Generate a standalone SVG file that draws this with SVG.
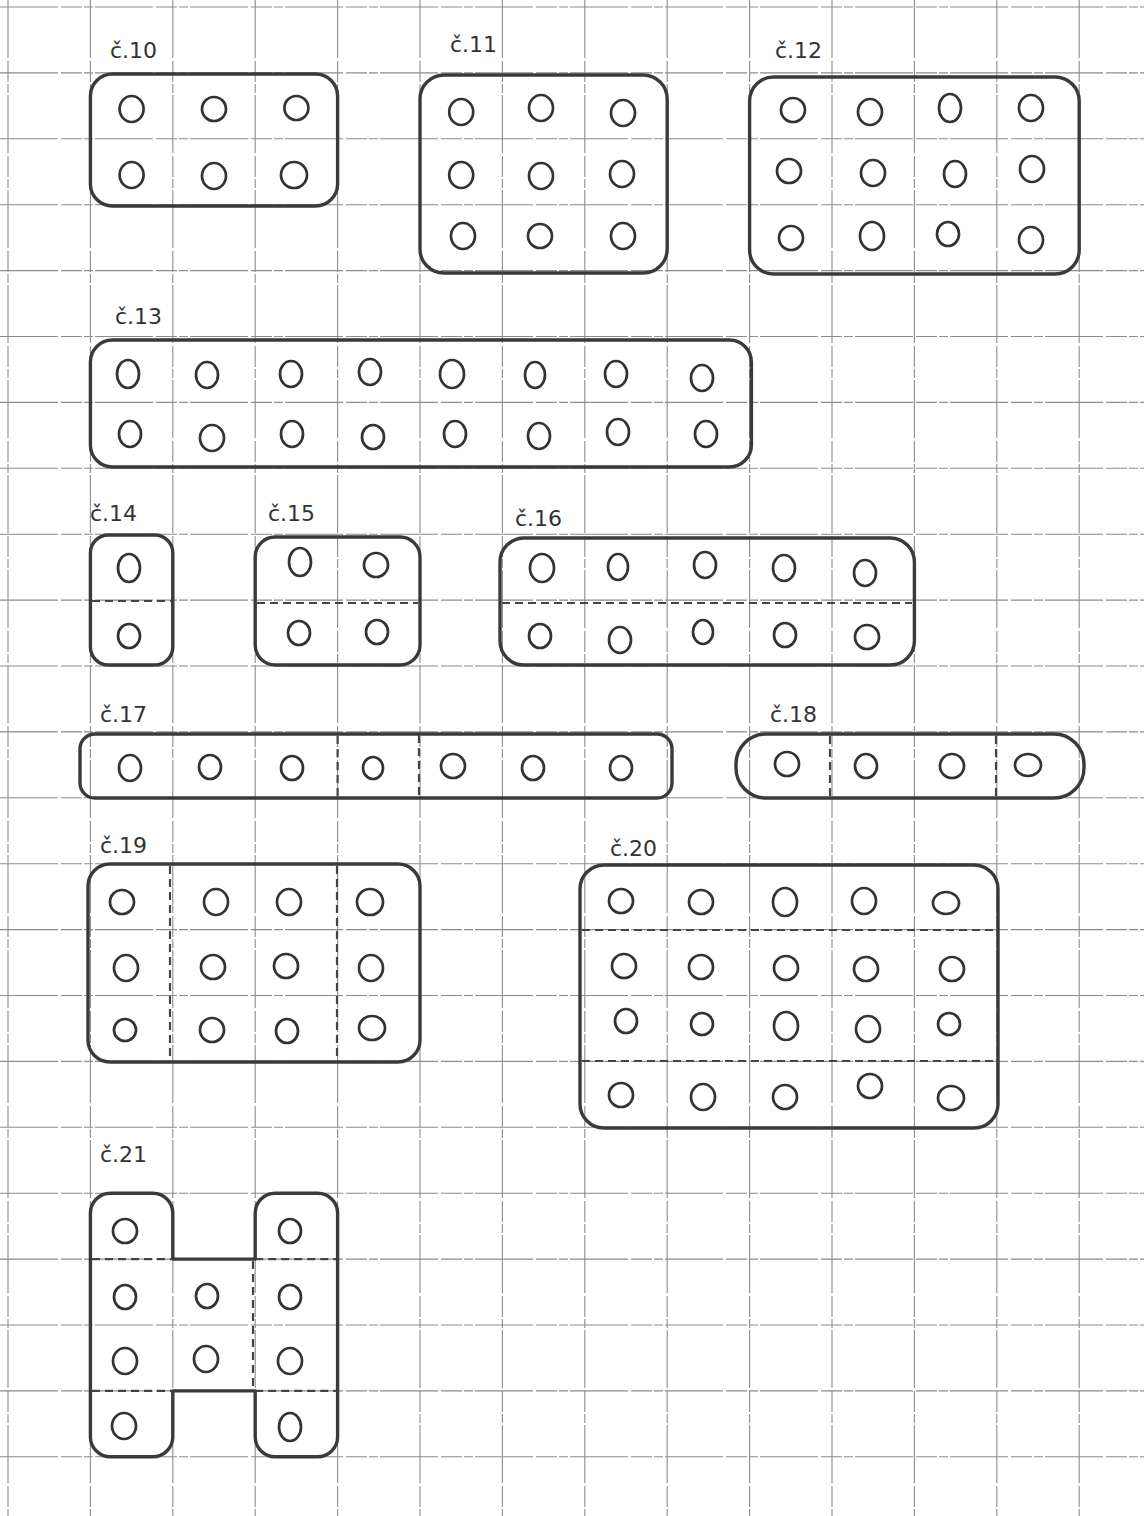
<svg xmlns="http://www.w3.org/2000/svg" width="1144" height="1516" viewBox="0 0 1144 1516">
<style>
.grid line{stroke:#8c8c8c;stroke-width:1.1;stroke-dasharray:58 3 21 2 9 2}
.box{fill:none;stroke:#3a3a3a;stroke-width:3.4;stroke-linejoin:round}
.sep{fill:none;stroke:#444;stroke-width:2.2;stroke-dasharray:8 5}
.hole{fill:none;stroke:#333;stroke-width:2.7}
.lbl{font-family:"DejaVu Sans","Liberation Sans",sans-serif;font-size:22px;fill:#333}
</style>
<rect width="1144" height="1516" fill="#fff"/>
<g class="grid">
<line x1="8" y1="0" x2="8" y2="1516"/><line x1="90.4" y1="0" x2="90.4" y2="1516"/><line x1="172.8" y1="0" x2="172.8" y2="1516"/><line x1="255.2" y1="0" x2="255.2" y2="1516"/><line x1="337.6" y1="0" x2="337.6" y2="1516"/><line x1="420" y1="0" x2="420" y2="1516"/><line x1="502.4" y1="0" x2="502.4" y2="1516"/><line x1="584.8" y1="0" x2="584.8" y2="1516"/><line x1="667.2" y1="0" x2="667.2" y2="1516"/><line x1="749.6" y1="0" x2="749.6" y2="1516"/><line x1="832" y1="0" x2="832" y2="1516"/><line x1="914.4" y1="0" x2="914.4" y2="1516"/><line x1="996.8" y1="0" x2="996.8" y2="1516"/><line x1="1079.2" y1="0" x2="1079.2" y2="1516"/>
<line x1="0" y1="7" x2="1144" y2="7"/><line x1="0" y1="72.9" x2="1144" y2="72.9"/><line x1="0" y1="138.8" x2="1144" y2="138.8"/><line x1="0" y1="204.7" x2="1144" y2="204.7"/><line x1="0" y1="270.6" x2="1144" y2="270.6"/><line x1="0" y1="336.5" x2="1144" y2="336.5"/><line x1="0" y1="402.4" x2="1144" y2="402.4"/><line x1="0" y1="468.3" x2="1144" y2="468.3"/><line x1="0" y1="534.2" x2="1144" y2="534.2"/><line x1="0" y1="600.1" x2="1144" y2="600.1"/><line x1="0" y1="666" x2="1144" y2="666"/><line x1="0" y1="731.9" x2="1144" y2="731.9"/><line x1="0" y1="797.8" x2="1144" y2="797.8"/><line x1="0" y1="863.7" x2="1144" y2="863.7"/><line x1="0" y1="929.6" x2="1144" y2="929.6"/><line x1="0" y1="995.5" x2="1144" y2="995.5"/><line x1="0" y1="1061.4" x2="1144" y2="1061.4"/><line x1="0" y1="1127.3" x2="1144" y2="1127.3"/><line x1="0" y1="1193.2" x2="1144" y2="1193.2"/><line x1="0" y1="1259.1" x2="1144" y2="1259.1"/><line x1="0" y1="1325" x2="1144" y2="1325"/><line x1="0" y1="1390.9" x2="1144" y2="1390.9"/><line x1="0" y1="1456.8" x2="1144" y2="1456.8"/>
</g>
<g id="connectors"></g>

<g id="c10">
<text class="lbl" x="110" y="58">č.10</text>
<rect class="box" x="90.4" y="74" width="247.2" height="132" rx="22"/>
<ellipse class="hole" cx="131.6" cy="109" rx="12" ry="13"/><ellipse class="hole" cx="214" cy="109" rx="12" ry="12"/><ellipse class="hole" cx="296.4" cy="108" rx="12" ry="12"/>
<ellipse class="hole" cx="131.6" cy="175" rx="12" ry="13"/><ellipse class="hole" cx="214" cy="176" rx="12" ry="13"/><ellipse class="hole" cx="294" cy="175" rx="13" ry="13"/>
</g>

<g id="c11">
<text class="lbl" x="450" y="52">č.11</text>
<rect class="box" x="420" y="75" width="247.2" height="198" rx="24"/>
<ellipse class="hole" cx="461.2" cy="112" rx="12" ry="13"/><ellipse class="hole" cx="541" cy="108" rx="12" ry="13"/><ellipse class="hole" cx="623" cy="113" rx="12" ry="13"/>
<ellipse class="hole" cx="461.2" cy="175" rx="12" ry="13"/><ellipse class="hole" cx="541" cy="176" rx="12" ry="13"/><ellipse class="hole" cx="622" cy="174" rx="12" ry="13"/>
<ellipse class="hole" cx="463" cy="236" rx="12" ry="13"/><ellipse class="hole" cx="540" cy="236" rx="12" ry="12"/><ellipse class="hole" cx="623" cy="236" rx="12" ry="13"/>
</g>

<g id="c12">
<text class="lbl" x="775" y="58">č.12</text>
<rect class="box" x="749.6" y="77" width="329.6" height="197" rx="24"/>
<ellipse class="hole" cx="793" cy="110" rx="12" ry="12"/><ellipse class="hole" cx="870" cy="112" rx="12" ry="13"/><ellipse class="hole" cx="950" cy="108" rx="11" ry="14"/><ellipse class="hole" cx="1031" cy="108" rx="12" ry="13"/>
<ellipse class="hole" cx="789" cy="171" rx="12" ry="12"/><ellipse class="hole" cx="873" cy="173" rx="12" ry="13"/><ellipse class="hole" cx="955" cy="174" rx="11" ry="13"/><ellipse class="hole" cx="1032" cy="169" rx="12" ry="13"/>
<ellipse class="hole" cx="791" cy="238" rx="12" ry="12"/><ellipse class="hole" cx="872" cy="236" rx="12" ry="14"/><ellipse class="hole" cx="948" cy="234" rx="11" ry="12"/><ellipse class="hole" cx="1031" cy="240" rx="12" ry="13"/>
</g>

<g id="c13">
<text class="lbl" x="115" y="324">č.13</text>
<rect class="box" x="90.4" y="340" width="661" height="127" rx="22"/>
<ellipse class="hole" cx="128" cy="374" rx="11" ry="14"/><ellipse class="hole" cx="207" cy="375" rx="11" ry="13"/><ellipse class="hole" cx="291" cy="374" rx="11" ry="13"/><ellipse class="hole" cx="370" cy="372" rx="11" ry="13"/><ellipse class="hole" cx="452" cy="374" rx="12" ry="14"/><ellipse class="hole" cx="535" cy="375" rx="10" ry="13"/><ellipse class="hole" cx="616" cy="374" rx="11" ry="13"/><ellipse class="hole" cx="702" cy="378" rx="11" ry="13"/>
<ellipse class="hole" cx="130" cy="434" rx="11" ry="13"/><ellipse class="hole" cx="212" cy="438" rx="12" ry="13"/><ellipse class="hole" cx="292" cy="434" rx="11" ry="13"/><ellipse class="hole" cx="373" cy="437" rx="11" ry="12"/><ellipse class="hole" cx="455" cy="434" rx="11" ry="13"/><ellipse class="hole" cx="539" cy="436" rx="11" ry="13"/><ellipse class="hole" cx="618" cy="432" rx="11" ry="13"/><ellipse class="hole" cx="706" cy="434" rx="11" ry="13"/>
</g>

<g id="c14">
<text class="lbl" x="90" y="521">č.14</text>
<rect class="box" x="90.4" y="535" width="82.4" height="130" rx="18"/>
<line class="sep" x1="92" y1="601" x2="171" y2="601"/>
<ellipse class="hole" cx="129" cy="568" rx="11" ry="14"/><ellipse class="hole" cx="129" cy="636" rx="11" ry="12"/>
</g>

<g id="c15">
<text class="lbl" x="268" y="521">č.15</text>
<rect class="box" x="255.2" y="537" width="164.8" height="128" rx="20"/>
<line class="sep" x1="257" y1="603" x2="418" y2="603"/>
<ellipse class="hole" cx="300" cy="562" rx="11" ry="14"/><ellipse class="hole" cx="376" cy="565" rx="12" ry="12"/>
<ellipse class="hole" cx="299" cy="633" rx="11" ry="12"/><ellipse class="hole" cx="377" cy="632" rx="11" ry="12"/>
</g>

<g id="c16">
<text class="lbl" x="515" y="526">č.16</text>
<rect class="box" x="500" y="538" width="414.4" height="127" rx="24"/>
<line class="sep" x1="502" y1="603" x2="912" y2="603"/>
<ellipse class="hole" cx="542" cy="568" rx="12" ry="14"/><ellipse class="hole" cx="618" cy="567" rx="10" ry="13"/><ellipse class="hole" cx="705" cy="565" rx="11" ry="13"/><ellipse class="hole" cx="784" cy="568" rx="11" ry="13"/><ellipse class="hole" cx="865" cy="573" rx="11" ry="13"/>
<ellipse class="hole" cx="540" cy="636" rx="11" ry="12"/><ellipse class="hole" cx="620" cy="640" rx="11" ry="13"/><ellipse class="hole" cx="703" cy="632" rx="10" ry="12"/><ellipse class="hole" cx="785" cy="635" rx="11" ry="12"/><ellipse class="hole" cx="867" cy="637" rx="12" ry="12"/>
</g>

<g id="c17">
<text class="lbl" x="100" y="722">č.17</text>
<rect class="box" x="80" y="734" width="592" height="64" rx="15"/>
<line class="sep" x1="337.6" y1="736" x2="337.6" y2="797"/><line class="sep" x1="419" y1="735" x2="419" y2="797"/>
<ellipse class="hole" cx="130" cy="768" rx="11" ry="13"/><ellipse class="hole" cx="210" cy="767" rx="11" ry="12"/><ellipse class="hole" cx="292" cy="768" rx="11" ry="12"/><ellipse class="hole" cx="373" cy="768" rx="10" ry="11"/><ellipse class="hole" cx="453" cy="766" rx="12" ry="12"/><ellipse class="hole" cx="533" cy="768" rx="11" ry="12"/><ellipse class="hole" cx="621" cy="768" rx="11" ry="12"/>
</g>

<g id="c18">
<text class="lbl" x="770" y="722">č.18</text>
<rect class="box" x="736" y="734" width="348" height="64" rx="30"/>
<line class="sep" x1="830" y1="736" x2="830" y2="797"/><line class="sep" x1="996" y1="736" x2="996" y2="797"/>
<ellipse class="hole" cx="787" cy="764" rx="12" ry="12"/><ellipse class="hole" cx="866" cy="766" rx="11" ry="12"/><ellipse class="hole" cx="952" cy="766" rx="12" ry="12"/><ellipse class="hole" cx="1028" cy="765" rx="13" ry="11"/>
</g>

<g id="c19">
<text class="lbl" x="100" y="853">č.19</text>
<rect class="box" x="88" y="864" width="332" height="198" rx="22"/>
<line class="sep" x1="170" y1="866" x2="170" y2="1060"/><line class="sep" x1="337" y1="866" x2="337" y2="1060"/>
<ellipse class="hole" cx="122" cy="902" rx="12" ry="12"/><ellipse class="hole" cx="216" cy="902" rx="12" ry="13"/><ellipse class="hole" cx="289" cy="902" rx="12" ry="13"/><ellipse class="hole" cx="370" cy="902" rx="13" ry="13"/>
<ellipse class="hole" cx="126" cy="968" rx="12" ry="13"/><ellipse class="hole" cx="213" cy="967" rx="12" ry="12"/><ellipse class="hole" cx="286" cy="966" rx="12" ry="12"/><ellipse class="hole" cx="371" cy="968" rx="12" ry="13"/>
<ellipse class="hole" cx="125" cy="1030" rx="11" ry="11"/><ellipse class="hole" cx="212" cy="1030" rx="12" ry="12"/><ellipse class="hole" cx="287" cy="1031" rx="11" ry="12"/><ellipse class="hole" cx="372" cy="1028" rx="13" ry="12"/>
</g>

<g id="c20">
<text class="lbl" x="610" y="856">č.20</text>
<rect class="box" x="580" y="865" width="418" height="263" rx="24"/>
<line class="sep" x1="582" y1="930" x2="996" y2="930"/><line class="sep" x1="582" y1="1061" x2="996" y2="1061"/>
<ellipse class="hole" cx="621" cy="901" rx="12" ry="12"/><ellipse class="hole" cx="701" cy="902" rx="12" ry="12"/><ellipse class="hole" cx="785" cy="902" rx="12" ry="14"/><ellipse class="hole" cx="864" cy="901" rx="12" ry="13"/><ellipse class="hole" cx="946" cy="903" rx="13" ry="11"/>
<ellipse class="hole" cx="624" cy="966" rx="12" ry="12"/><ellipse class="hole" cx="701" cy="967" rx="12" ry="12"/><ellipse class="hole" cx="786" cy="968" rx="12" ry="12"/><ellipse class="hole" cx="866" cy="969" rx="12" ry="12"/><ellipse class="hole" cx="952" cy="969" rx="12" ry="12"/>
<ellipse class="hole" cx="626" cy="1021" rx="11" ry="12"/><ellipse class="hole" cx="702" cy="1024" rx="11" ry="11"/><ellipse class="hole" cx="786" cy="1026" rx="12" ry="14"/><ellipse class="hole" cx="868" cy="1029" rx="12" ry="13"/><ellipse class="hole" cx="949" cy="1024" rx="11" ry="11"/>
<ellipse class="hole" cx="621" cy="1095" rx="12" ry="12"/><ellipse class="hole" cx="703" cy="1097" rx="12" ry="13"/><ellipse class="hole" cx="785" cy="1097" rx="12" ry="12"/><ellipse class="hole" cx="870" cy="1086" rx="12" ry="12"/><ellipse class="hole" cx="951" cy="1098" rx="13" ry="12"/>
</g>

<g id="c21">
<text class="lbl" x="100" y="1162">č.21</text>
<path class="box" d="M 90.4 1213 A 20 20 0 0 1 110.4 1193.2 L 152.8 1193.2 A 20 20 0 0 1 172.8 1213 L 172.8 1259.1 L 255.2 1259.1 L 255.2 1213 A 20 20 0 0 1 275.2 1193.2 L 317.6 1193.2 A 20 20 0 0 1 337.6 1213 L 337.6 1437 A 20 20 0 0 1 317.6 1456.8 L 275.2 1456.8 A 20 20 0 0 1 255.2 1437 L 255.2 1390.9 L 172.8 1390.9 L 172.8 1437 A 20 20 0 0 1 152.8 1456.8 L 110.4 1456.8 A 20 20 0 0 1 90.4 1437 Z"/>
<line class="sep" x1="92" y1="1259.1" x2="172.8" y2="1259.1"/><line class="sep" x1="255.2" y1="1259.1" x2="336" y2="1259.1"/>
<line class="sep" x1="92" y1="1390.9" x2="172.8" y2="1390.9"/><line class="sep" x1="255.2" y1="1390.9" x2="336" y2="1390.9"/>
<line class="sep" x1="253" y1="1261" x2="253" y2="1389"/>
<ellipse class="hole" cx="125" cy="1231" rx="12" ry="12"/><ellipse class="hole" cx="290" cy="1231" rx="11" ry="12"/>
<ellipse class="hole" cx="125" cy="1297" rx="11" ry="12"/><ellipse class="hole" cx="207" cy="1296" rx="11" ry="12"/><ellipse class="hole" cx="290" cy="1297" rx="11" ry="12"/>
<ellipse class="hole" cx="125" cy="1361" rx="12" ry="13"/><ellipse class="hole" cx="206" cy="1359" rx="12" ry="13"/><ellipse class="hole" cx="290" cy="1361" rx="12" ry="13"/>
<ellipse class="hole" cx="124" cy="1426" rx="12" ry="13"/><ellipse class="hole" cx="290" cy="1427" rx="11" ry="14"/>
</g>
</svg>
